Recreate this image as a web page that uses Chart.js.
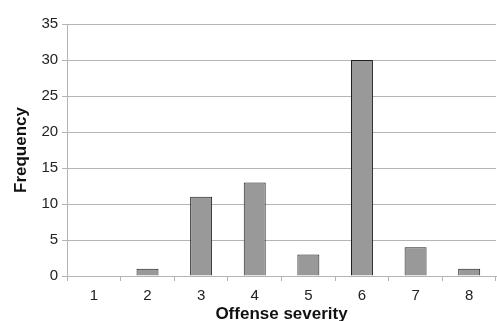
<!DOCTYPE html>
<html>
<head>
<meta charset="utf-8">
<script src="https://cdn.jsdelivr.net/npm/chart.js@4"></script>
<style>
html,body{margin:0;padding:0;background:#fff}
#wrap{width:497px;height:321px}
</style>
</head>
<body>
<div id="wrap"><canvas id="c"></canvas></div>
<script>
const categories=["1","2","3","4","5","6","7","8"]
const frequency=[0,1,11,13,3,30,4,1]
const yTicks=[0,5,10,15,20,25,30,35]

const gridGray="#b4b4b4"
const font="'Liberation Sans', Arial, sans-serif"

new Chart(document.getElementById("c"),{
    type:"bar",
    data:{
        labels:categories,
        datasets:[{
            data:frequency,
            backgroundColor:"#999999",
            borderColor:"#1e1e1e",
            borderWidth:1,
            barPercentage:0.41,
            categoryPercentage:1
        }]
    },
    options:{
        responsive:true,
        maintainAspectRatio:false,
        animation:false,
        layout:{padding:{top:24,right:1,left:11,bottom:-2}},
        plugins:{legend:{display:false},tooltip:{enabled:false}},
        scales:{
            x:{
                grid:{display:true,drawOnChartArea:false,offset:true,color:gridGray,tickLength:5},
                border:{color:gridGray},
                ticks:{color:"#222",font:{family:font,size:15},padding:6},
                title:{display:true,text:"Offense severity",color:"#111",font:{family:font,size:17,weight:"bold",lineHeight:1},padding:{top:-5,bottom:0}}
            },
            y:{
                min:0,
                max:35,
                afterBuildTicks:(axis)=>{axis.ticks=yTicks.map(v=>({value:v}))},
                grid:{color:gridGray,tickLength:5},
                border:{color:gridGray},
                ticks:{color:"#222",font:{family:font,size:15},padding:4},
                title:{display:true,text:"Frequency",color:"#111",font:{family:font,size:17,weight:"bold",lineHeight:1.2},padding:{top:0,bottom:6}}
            }
        }
    }
})
</script>
</body>
</html>
